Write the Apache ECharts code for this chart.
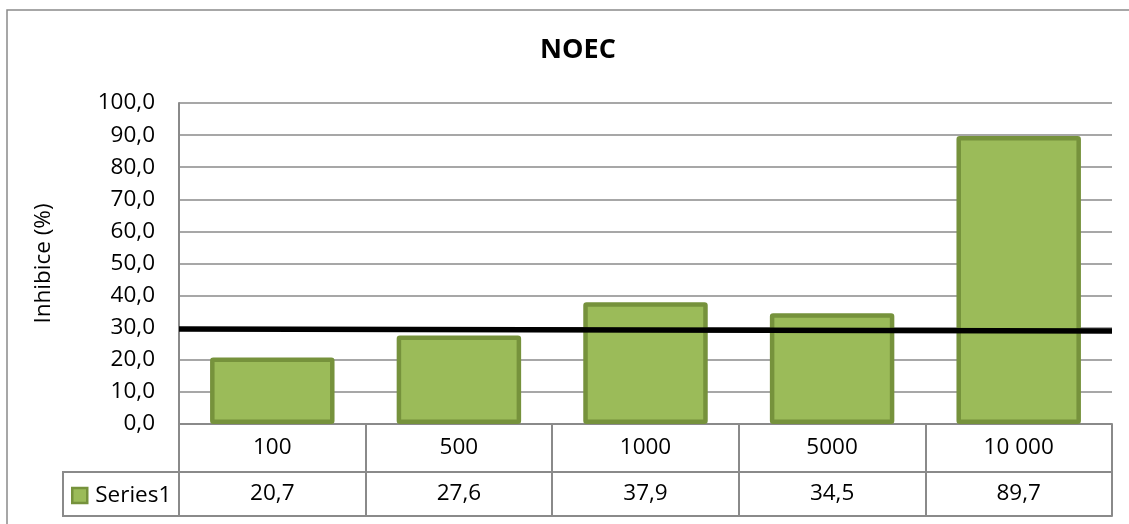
<!DOCTYPE html>
<html>
<head>
<meta charset="utf-8">
<script src="https://cdn.jsdelivr.net/npm/echarts@6/dist/echarts.min.js"></script>
<style>
  html, body { margin: 0; padding: 0; background: #fff; overflow: hidden; }
  #chart { position: absolute; left: 0; top: 0; width: 1129px; height: 524px; }
</style>
</head>
<body>
<div id="chart"></div>
<script>
// Concentrations (categories) and measured inhibition in %
const categories = ['100', '500', '1000', '5000', '10 000'];
const inhibition = [20.7, 27.6, 37.9, 34.5, 89.7];
const seriesName = 'Series1';
// Hand-drawn reference line: value at its left end and at its right end
const thresholdLine = [29.6, 29.0];
const yMin = 0, yMax = 100, yStep = 10;

const FONT = '"Open Sans", "Noto Sans", sans-serif';
const GRAY = '#8a8a8a';
const FILL = '#9bbb59';
const EDGE = '#76923c';

// Layout constants
const W = 1129, H = 524;
const gridLeft = 179, gridTop = 103, gridRight = 1112, gridBottom = 424;
const row1 = 48, row2 = 44;           // data table row heights
const tableLeft = 63;                  // left edge of the legend cell

const fmt = v => v.toFixed(1).replace('.', ',');
const tableLine = { show: true, onZero: false, lineStyle: { color: GRAY, width: 2 } };

const chart = echarts.init(document.getElementById('chart'), null, { renderer: 'canvas', width: W, height: H });

chart.setOption({
  animation: false,
  backgroundColor: '#fff',
  textStyle: { fontFamily: FONT, color: '#000' },
  title: {
    text: 'NOEC',
    left: 573,
    top: 32,
    textAlign: 'center',
    textStyle: { fontFamily: FONT, fontSize: 27, fontWeight: 'bold', color: '#000' }
  },
  legend: {
    data: [seriesName],
    left: 71,
    top: gridBottom + row1 + 12,
    padding: 0,
    itemWidth: 15,
    itemHeight: 15,
    icon: 'rect',
    itemStyle: { color: FILL, borderColor: EDGE, borderWidth: 2.5 },
    textStyle: { fontFamily: FONT, fontSize: 22.5, color: '#000', padding: [0, 0, 0, 3] }
  },
  grid: {
    left: gridLeft, top: gridTop, right: W - gridRight, bottom: H - gridBottom,
    containLabel: false, outerBoundsMode: 'none'
  },
  xAxis: [
    {
      // category row of the data table
      type: 'category',
      data: categories,
      position: 'bottom',
      axisLine: tableLine,
      axisTick: { show: true, alignWithLabel: false, length: row1 + row2, lineStyle: { color: GRAY, width: 2 } },
      axisLabel: { fontFamily: FONT, fontSize: 22.5, color: '#000', margin: 13, lineHeight: 22 },
      splitLine: { show: false }
    },
    {
      // value row of the data table
      type: 'category',
      data: inhibition.map(fmt),
      position: 'bottom',
      offset: row1,
      axisLine: tableLine,
      axisTick: { show: false },
      axisLabel: { fontFamily: FONT, fontSize: 22.5, color: '#000', margin: 11, lineHeight: 22 },
      splitLine: { show: false }
    },
    {
      // bottom border of the data table
      type: 'category',
      data: categories,
      position: 'bottom',
      offset: row1 + row2,
      axisLine: tableLine,
      axisTick: { show: false },
      axisLabel: { show: false },
      splitLine: { show: false }
    },
    {
      // span axis for the reference line
      type: 'value',
      min: 0, max: 1,
      show: false,
      axisLine: { show: false, onZero: false },
      splitLine: { show: false }
    }
  ],
  yAxis: {
    type: 'value',
    min: yMin, max: yMax, interval: yStep,
    name: 'Inhibice (%)',
    nameLocation: 'middle',
    nameRotate: 90,
    nameGap: 124,
    nameTextStyle: { fontFamily: FONT, fontSize: 22.5, color: '#000' },
    axisLine: tableLine,
    axisTick: { show: false },
    axisLabel: { fontFamily: FONT, fontSize: 22.5, color: '#000', margin: 24, formatter: v => fmt(v) },
    splitLine: { show: true, lineStyle: { color: GRAY, width: 1.5 } }
  },
  series: [
    {
      name: seriesName,
      type: 'bar',
      xAxisIndex: 0,
      data: inhibition,
      barCategoryGap: '33.3%',
      itemStyle: { color: FILL, borderColor: EDGE, borderWidth: 4.5, borderRadius: 1 },
      z: 2
    },
    {
      name: 'threshold',
      type: 'line',
      xAxisIndex: 3,
      data: [[0, thresholdLine[0]], [1, thresholdLine[1]]],
      symbol: 'none',
      clip: false,
      lineStyle: { color: '#000', width: 5.5 },
      z: 5,
      silent: true
    }
  ],
  graphic: [
    // outer chart frame (left and top edges fall inside the view)
    { type: 'polyline', shape: { points: [[7, H + 20], [7, 10], [W + 20, 10]] },
      style: { fill: 'none', stroke: GRAY, lineWidth: 1.5 }, silent: true },
    // legend cell of the data table
    { type: 'polyline', shape: { points: [
        [gridLeft, gridBottom + row1], [tableLeft, gridBottom + row1],
        [tableLeft, gridBottom + row1 + row2], [gridLeft, gridBottom + row1 + row2]
      ] },
      style: { fill: 'none', stroke: GRAY, lineWidth: 2 }, silent: true }
  ]
});
</script>
</body>
</html>
